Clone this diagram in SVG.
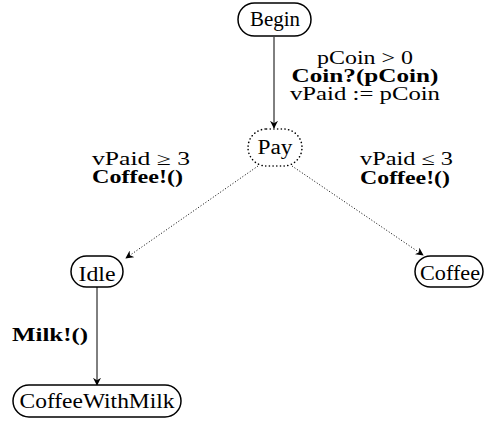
<svg xmlns="http://www.w3.org/2000/svg" width="485" height="424" viewBox="0 0 485 424" font-family="'Liberation Serif', 'DejaVu Serif', serif" font-size="18">
<style>
.n{fill:#fff;stroke:#000;stroke-width:1.5}
.d{fill:#fff;stroke:#000;stroke-width:1.6;stroke-dasharray:0.1 3.6;stroke-linecap:round}
text{font-family:'Liberation Serif','DejaVu Serif',serif;font-size:18px;fill:#000}
.c{text-anchor:middle}
.b{font-weight:bold}
.e{fill:none;stroke:#000;stroke-width:1}
.dot{fill:none;stroke:#000;stroke-width:1;stroke-dasharray:1 2}
</style>
<defs>
<marker id="a" viewBox="0 0 10 10" refX="9" refY="5" markerWidth="8" markerHeight="8" markerUnits="userSpaceOnUse" orient="auto">
<path d="M0,0 L10,5 L0,10 L3,5 Z" fill="#000"/>
</marker>
</defs>
<g id="connectors">
<line class="e" x1="274" y1="37" x2="274" y2="128" marker-end="url(#a)"/>
<line class="dot" x1="258" y1="166" x2="126" y2="258" marker-end="url(#a)"/>
<line class="dot" x1="292" y1="166" x2="423" y2="255" marker-end="url(#a)"/>
<line class="e" x1="97" y1="287" x2="97" y2="385" marker-end="url(#a)"/>
<g id="labels">
<text class="c" x="365" y="64" textLength="96" lengthAdjust="spacingAndGlyphs">pCoin &gt; 0</text>
<text class="c b" x="365" y="82" textLength="147" lengthAdjust="spacingAndGlyphs">Coin?(pCoin)</text>
<text class="c" x="365" y="100" textLength="150" lengthAdjust="spacingAndGlyphs">vPaid := pCoin</text>
<text x="92" y="165" textLength="98" lengthAdjust="spacingAndGlyphs">vPaid ≥ 3</text>
<text class="b" x="92" y="183" textLength="91" lengthAdjust="spacingAndGlyphs">Coffee!()</text>
<text x="360" y="165" textLength="93" lengthAdjust="spacingAndGlyphs">vPaid ≤ 3</text>
<text class="b" x="360" y="184" textLength="90" lengthAdjust="spacingAndGlyphs">Coffee!()</text>
<text class="b" x="12" y="341" textLength="76" lengthAdjust="spacingAndGlyphs">Milk!()</text>
</g>
</g>
<g id="Begin"><rect class="n" x="238" y="3" width="73" height="33" rx="16.5"/><text class="c" x="275" y="26" font-size="20" style="font-size:20px" textLength="50" lengthAdjust="spacingAndGlyphs">Begin</text></g>
<g id="Pay"><rect class="d" x="248" y="129" width="54" height="37" rx="18.5"/><text class="c" x="275" y="154" style="font-size:20px" textLength="35" lengthAdjust="spacingAndGlyphs">Pay</text></g>
<g id="Idle"><rect class="n" x="71" y="256" width="52" height="31" rx="15.5"/><text class="c" x="97" y="281" style="font-size:20px" textLength="37" lengthAdjust="spacingAndGlyphs">Idle</text></g>
<g id="Coffee"><rect class="n" x="415" y="256" width="68" height="31" rx="15.5"/><text class="c" x="450" y="280" style="font-size:20px" textLength="60" lengthAdjust="spacingAndGlyphs">Coffee</text></g>
<g id="CoffeeWithMilk"><rect class="n" x="13" y="385" width="168" height="32" rx="16"/><text class="c" x="97" y="408" style="font-size:20px" textLength="155" lengthAdjust="spacingAndGlyphs">CoffeeWithMilk</text></g>
</svg>
